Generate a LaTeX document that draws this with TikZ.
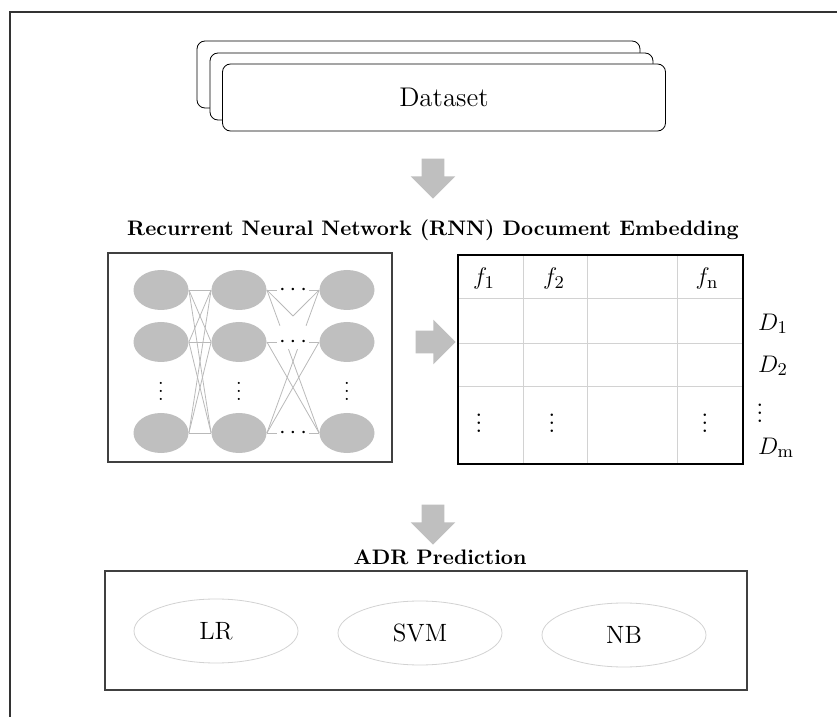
\documentclass[tikz,border=0pt]{standalone}
\usetikzlibrary{positioning,shapes.geometric,shapes.arrows,calc}

\tikzset{
  neuron/.style={ellipse,fill=gray!50,inner sep=0pt,minimum width=27.5pt,minimum height=20pt},
  clf/.style={ellipse,draw=gray!35,minimum width=82pt,minimum height=32pt,font=\fontsize{12.5}{14}\selectfont},
  bigarrow/.style={single arrow,fill=gray!50,inner xsep=0pt,inner ysep=5.5pt,minimum height=20pt,minimum width=22pt,single arrow head extend=5.5pt},
  wire/.style={gray!55,line width=0.4pt},
  gridline/.style={gray!35,line width=0.5pt},
  dsbox/.style={draw,rounded corners=4pt,fill=white,minimum width=221.5pt,minimum height=33.5pt},
  lbl/.style={font=\fontsize{13}{15}\selectfont},
  ttl/.style={font=\fontsize{10.5}{12}\selectfont\bfseries},
}

\begin{document}
\begin{tikzpicture}[x=0.5pt,y=-0.5pt]
    \useasboundingbox (0,0) rectangle (837,717);
    \draw[line width=1pt,black!80] (10,717) -- (10,12) -- (837,12);

    % dataset
    \node[dsbox] (ds3) at (418.5,74.5) {};
    \node[dsbox] (ds2) at (431.5,86.5) {};
    \node[dsbox,font=\fontsize{13.5}{15}\selectfont] (ds1) at (444,97.5) {Dataset};
    \node[bigarrow,rotate=-90] (ar1) at (433,173) {};

    \node[ttl] (t1) at (433,230) {Recurrent Neural Network (RNN) Document Embedding};

    % network
    \node[draw=black!75,line width=0.6pt,minimum width=142pt,minimum height=104.5pt] (nn) at (250,357.5) {};
    \node[neuron] (a1) at (161,290) {};
    \node[neuron] (a2) [below of=a1,node distance=26pt] {};
    \node (a3) [below of=a2,node distance=21.5pt] {$\vdots$};
    \node[neuron] (a4) [below of=a2,node distance=45.5pt] {};
    \node[neuron] (b1) [right of=a1,node distance=39pt] {};
    \node[neuron] (b2) [right of=a2,node distance=39pt] {};
    \node (b3) [right of=a3,node distance=39pt] {$\vdots$};
    \node[neuron] (b4) [right of=a4,node distance=39pt] {};
    \node[neuron] (c1) [right of=b1,node distance=54pt] {};
    \node[neuron] (c2) [right of=b2,node distance=54pt] {};
    \node (c3) [right of=b3,node distance=54pt] {$\vdots$};
    \node[neuron] (c4) [right of=b4,node distance=54pt] {};

    \foreach \i in {1,2,4}
      \foreach \j in {1,2,4}
        \draw[wire] (a\i.east) -- (b\j.west);
    \draw[wire] (b2.east) -- (c4.west);
    \draw[wire] (b4.east) -- (c2.west);
    \draw[wire] (b1.east) -- ($(b1.east)!0.5!(c2.west)$);
    \draw[wire] (c1.west) -- ($(c1.west)!0.5!(b2.east)$);
    \draw[wire] (b4.east) -- ($(b4.east)!0.6!(c1.west)$);
    \draw[wire] (c1.west) -- ($(c1.west)!0.25!(b4.east)$);
    \draw[wire] (c4.west) -- ($(c4.west)!0.6!(b1.east)$);
    \draw[wire] (b1.east) -- ($(b1.east)!0.25!(c4.west)$);
    \foreach \i in {1,2,4}
      \draw[wire] (b\i.east) -- node[fill=white,inner sep=1pt,text=black,font=\fontsize{13}{15}\selectfont] {$\cdots$} (c\i.west);

    \node[bigarrow] (ar2) at (430,342) {};

    % embedding matrix
    \foreach \x in {523,587,677}
      \draw[gridline] (\x,255) -- (\x,464);
    \foreach \y in {299,344,387}
      \draw[gridline] (458,\y) -- (743,\y);
    \node[draw,line width=0.6pt,minimum width=142.5pt,minimum height=104.5pt] (tbl) at (600.5,359.5) {};
    \node[lbl] (f1) at (484,279) {$f_1$};
    \node[lbl] (f2) at (554,279) {$f_2$};
    \node[lbl] (fn) at (707,279) {$f_{\mathrm{n}}$};
    \node[lbl] (v1) at (479,417) {$\vdots$};
    \node[lbl] (v2) at (552,417) {$\vdots$};
    \node[lbl] (vn) at (705,417) {$\vdots$};
    \node[lbl,anchor=west] (d1) at (751,324) {$D_1$};
    \node[lbl,anchor=west] (d2) at (751,366) {$D_2$};
    \node[lbl] (dv) at (760,407) {$\vdots$};
    \node[lbl,anchor=west] (dm) at (751,448) {$D_{\mathrm{m}}$};

    \node[bigarrow,rotate=-90] (ar3) at (433,519) {};

    % classifiers
    \node[ttl] (t2) at (440,557) {ADR Prediction};
    \node[draw=black!75,line width=0.6pt,minimum width=321pt,minimum height=59.5pt] (adr) at (426,630.5) {};
    \node[clf] (lr) at (216,631) {LR};
    \node[clf] (svm) at (420,633) {SVM};
    \node[clf] (nb) at (624,635) {NB};
\end{tikzpicture}
\end{document}
